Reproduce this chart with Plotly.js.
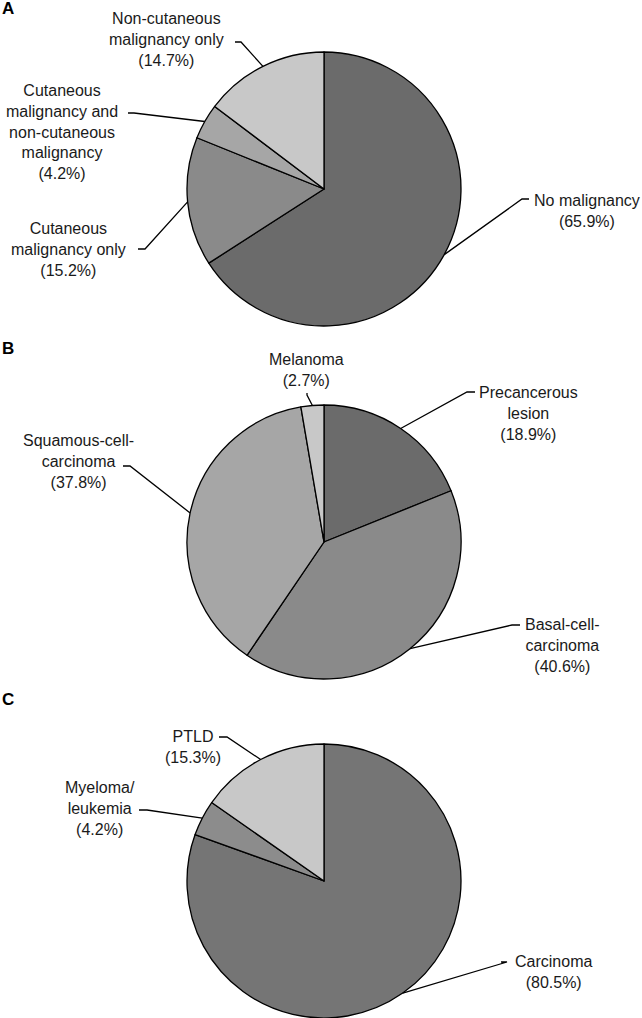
<!DOCTYPE html>
<html>
<head>
<meta charset="utf-8">
<script src="https://cdn.plot.ly/plotly-3.0.1.min.js"></script>
<style>html,body{margin:0;padding:0;background:#fff;}#chart{width:642px;height:1018px;}</style>
</head>
<body>
<div id="chart"></div>
<script>
// ---------- data ----------
const panelLetters = ['A', 'B', 'C'];

const labelsA = ['No malignancy', 'Cutaneous<br>malignancy only', 'Cutaneous<br>malignancy and<br>non-cutaneous<br>malignancy', 'Non-cutaneous<br>malignancy only'];
const valuesA = [65.9, 15.2, 4.2, 14.7];

const labelsB = ['Precancerous<br>lesion', 'Basal-cell-<br>carcinoma', 'Squamous-cell-<br>carcinoma', 'Melanoma'];
const valuesB = [18.9, 40.6, 37.8, 2.7];

const labelsC = ['Carcinoma', 'Myeloma/<br>leukemia', 'PTLD'];
const valuesC = [80.5, 4.2, 15.3];

// ---------- styling / layout ----------
const W = 642, H = 1018;
const colorsA = ['#6b6b6b', '#8a8a8a', '#a6a6a6', '#c8c8c8'];
const colorsB = ['#6b6b6b', '#8a8a8a', '#a6a6a6', '#c8c8c8'];
const colorsC = ['#757575', '#8c8c8c', '#c8c8c8'];

const R = 137;
const pies = [
  {labels: labelsA, values: valuesA, colors: colorsA, cx: 324, cy: 189, letter: [8, 8.5],
   place: [ // text center x, y ; elbow ; dash end
     {tx: 587, ty: 211, ex: 522, ey: 199, dx: 529, dy: 199},
     {tx: 68, ty: 249.5, ex: 145, ey: 249, dx: 138, dy: 249},
     {tx: 62, ty: 131.5, ex: 134, ey: 113, dx: 128, dy: 113},
     {tx: 167, ty: 39.5, ex: 241, ey: 42, dx: 235, dy: 42}
   ]},
  {labels: labelsB, values: valuesB, colors: colorsB, cx: 324, cy: 542, letter: [8, 348.5],
   place: [
     {tx: 528, ty: 413, ex: 467, ey: 392, dx: 475, dy: 392},
     {tx: 562, ty: 645, ex: 512, ey: 625, dx: 520, dy: 625},
     {tx: 78, ty: 461.5, ex: 130, ey: 466, dx: 123, dy: 466},
     {tx: 306.5, ty: 370, ex: 307, ey: 395, dx: 307, dy: 393}
   ]},
  {labels: labelsC, values: valuesC, colors: colorsC, cx: 324, cy: 881, letter: [8, 699],
   place: [
     {tx: 553, ty: 971.5, ex: 507, ey: 962, dx: 501, dy: 962},
     {tx: 100, ty: 808, ex: 147, ey: 810, dx: 139, dy: 810},
     {tx: 193, ty: 747, ex: 227, ey: 737, dx: 219, dy: 737}
   ]}
];

const fx = px => px / W;
const fy = py => 1 - py / H;

const traces = [];
const shapes = [];
const annotations = [];
const font = {family: 'Liberation Sans, Arial, sans-serif', size: 16, color: '#1a1a1a'};

pies.forEach((p, i) => {
  traces.push({
    type: 'pie',
    labels: p.labels,
    values: p.values,
    sort: false,
    direction: 'clockwise',
    rotation: 0,
    textinfo: 'none',
    hoverinfo: 'label+percent',
    marker: {colors: p.colors, line: {color: '#000', width: 1.3}},
    domain: {x: [fx(p.cx - R), fx(p.cx + R)], y: [fy(p.cy + R), fy(p.cy - R)]},
    showlegend: false
  });
  const total = p.values.reduce((a, b) => a + b, 0);
  let cum = 0;
  p.values.forEach((v, j) => {
    const th = 2 * Math.PI * (cum + v / 2) / total;
    cum += v;
    const x0 = p.cx + R * Math.sin(th), y0 = p.cy - R * Math.cos(th);
    const pl = p.place[j];
    shapes.push({
      type: 'path', xref: 'paper', yref: 'paper',
      path: `M ${fx(x0)},${fy(y0)} L ${fx(pl.ex)},${fy(pl.ey)} L ${fx(pl.dx)},${fy(pl.dy)}`,
      line: {color: '#000', width: 1.3}
    });
    annotations.push({
      xref: 'paper', yref: 'paper', x: fx(pl.tx), y: fy(pl.ty),
      xanchor: 'center', yanchor: 'middle', showarrow: false, align: 'center',
      text: p.labels[j] + '<br>(' + v.toFixed(1) + '%)',
      font: font
    });
  });
  annotations.push({
    xref: 'paper', yref: 'paper', x: fx(p.letter[0]), y: fy(p.letter[1]),
    xanchor: 'center', yanchor: 'middle', showarrow: false,
    text: '<b>' + panelLetters[i] + '</b>',
    font: {family: 'Liberation Sans, Arial, sans-serif', size: 17, color: '#000'}
  });
});

const layout = {
  width: W, height: H,
  margin: {l: 0, r: 0, t: 0, b: 0},
  paper_bgcolor: '#fff', plot_bgcolor: '#fff',
  shapes: shapes,
  annotations: annotations,
  showlegend: false
};

Plotly.newPlot('chart', traces, layout, {displayModeBar: false, staticPlot: true});
</script>
</body>
</html>
